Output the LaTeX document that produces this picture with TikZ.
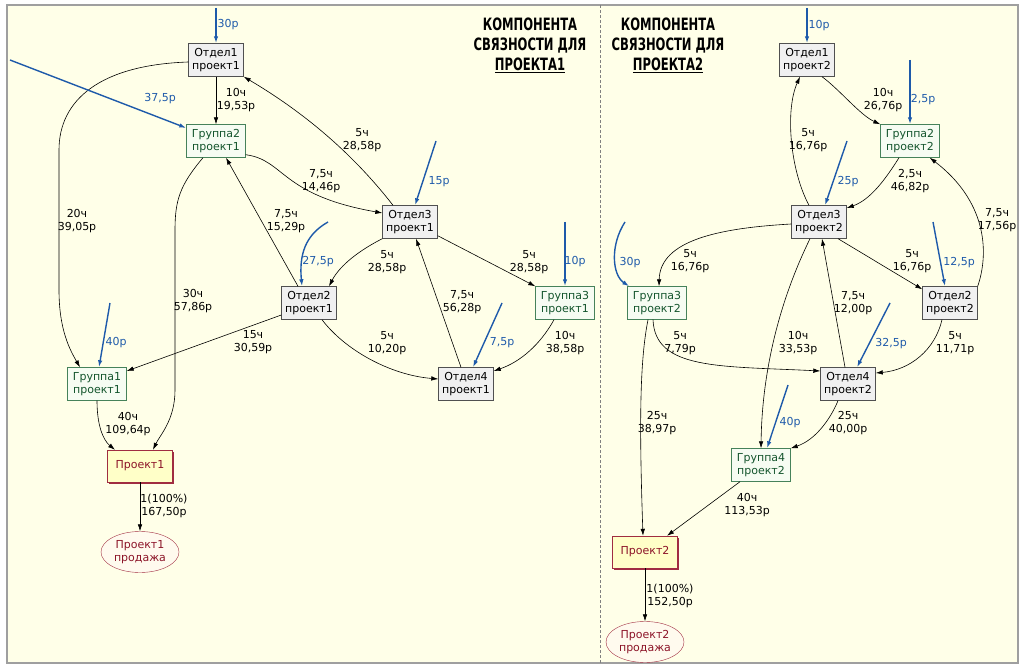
\documentclass[tikz,border=0pt]{standalone}
\usepackage{fontspec}
\setmainfont{DejaVu Sans}
\newfontfamily\ttlfont{DejaVu Sans}[FakeStretch=0.68]
\usetikzlibrary{arrows.meta,shapes.geometric,shadows}
\definecolor{paper}{RGB}{255,255,232}
\definecolor{inblue}{RGB}{30,90,170}
\definecolor{deptdraw}{RGB}{80,80,80}
\definecolor{deptfill}{RGB}{240,240,240}
\definecolor{grpdraw}{RGB}{70,130,90}
\definecolor{grpfill}{RGB}{246,252,242}
\definecolor{grptext}{RGB}{20,85,45}
\definecolor{projdraw}{RGB}{160,45,65}
\definecolor{projfill}{RGB}{255,255,200}
\definecolor{projtext}{RGB}{140,20,40}
\definecolor{salefill}{RGB}{255,250,238}

\begin{document}
\begin{tikzpicture}[x=1pt, y=-1pt, >={Latex[length=7pt,width=4.5pt]},
    dept/.style={draw=deptdraw, fill=deptfill, minimum width=55pt, minimum height=33pt, inner sep=1pt, align=center, font=\fontsize{11}{13}\selectfont},
    grp/.style={dept, draw=grpdraw, fill=grpfill, text=grptext, minimum width=59pt},
    proj/.style={dept, draw=projdraw, fill=projfill, text=projtext, minimum width=65pt, minimum height=32pt, drop shadow={shadow xshift=1.5pt, shadow yshift=-1.5pt, fill=projdraw, opacity=1}},
    sale/.style={ellipse, draw=projdraw, fill=salefill, text=projtext, minimum width=78pt, minimum height=41pt, inner sep=0pt, align=center, font=\fontsize{11}{13}\selectfont},
    lbl/.style={align=center, inner sep=0pt, font=\fontsize{11}{13}\selectfont},
    inlbl/.style={lbl, text=inblue},
    ttl/.style={align=center, inner sep=0pt, font=\ttlfont\bfseries\fontsize{17}{20}\selectfont},
    flow/.style={->, line width=0.6pt},
    inflow/.style={->, draw=inblue, line width=1.4pt}]
    \fill[white] (0,0) rectangle (1024,668);
    \useasboundingbox (0,0) rectangle (1024,668);
    \draw[draw=gray!75, fill=paper, line width=2pt] (7,5) rectangle (1018,663);
    \draw[gray, dash pattern=on 3pt off 2pt] (600,5) -- (600,663);

    \node[ttl] (t1) at (530,45) {КОМПОНЕНТА\\СВЯЗНОСТИ ДЛЯ\\\underline{ПРОЕКТА1}};
    \node[ttl] (t2) at (668,45) {КОМПОНЕНТА\\СВЯЗНОСТИ ДЛЯ\\\underline{ПРОЕКТА2}};

    \node[dept] (o1p1) at (216,60) {Отдел1\\проект1};
    \node[grp] (g2p1) at (216,141) {Группа2\\проект1};
    \node[dept] (o3p1) at (410,222) {Отдел3\\проект1};
    \node[dept] (o2p1) at (309,303) {Отдел2\\проект1};
    \node[grp] (g3p1) at (565,303) {Группа3\\проект1};
    \node[dept] (o4p1) at (466,384) {Отдел4\\проект1};
    \node[grp] (g1p1) at (97,384) {Группа1\\проект1};
    \node[proj] (p1) at (140,466) {Проект1};
    \node[sale] (s1) at (140,552) {Проект1\\продажа};

    \draw[flow] (o1p1) -- (g2p1);
    \draw[flow] ([yshift=-2pt]o1p1.west) .. controls (100,65) and (59,100) .. (59,150) -- (59,290) .. controls (59,330) and (70,350) .. ([xshift=-17pt]g1p1.north);
    \draw[flow] ([xshift=-13pt]g2p1.south) .. controls (180,185) and (175,200) .. (175,230) -- (175,390) .. controls (175,420) and (160,435) .. ([xshift=13pt]p1.north);
    \draw[flow] ([yshift=3pt]g2p1.south east) .. controls (285,160) and (280,195) .. ([yshift=9pt]o3p1.west);
    \draw[flow] ([xshift=-17pt]o3p1.north) .. controls (350,150) and (300,110) .. (o1p1.south east);
    \draw[flow] ([xshift=-11pt]o2p1.north) -- ([xshift=10pt]g2p1.south);
    \draw[flow] (o3p1.south west) .. controls (360,250) and (340,265) .. ([xshift=20pt]o2p1.north);
    \draw[flow] ([yshift=3pt]o3p1.south east) -- (g3p1.north west);
    \draw[flow] ([xshift=-5pt]o4p1.north) -- ([xshift=6pt]o3p1.south);
    \draw[flow] ([xshift=13pt]o2p1.south) .. controls (345,350) and (390,375) .. ([yshift=5pt]o4p1.west);
    \draw[flow] ([xshift=-11pt]g3p1.south) .. controls (540,345) and (520,362) .. ([yshift=13pt]o4p1.east);
    \draw[flow] ([yshift=-12pt]o2p1.west) -- ([yshift=13pt]g1p1.east);
    \draw[flow] (g1p1.south) .. controls (97,425) and (103,440) .. ([xshift=-25pt]p1.north);
    \draw[flow] (p1) -- (s1);

    \coordinate (i1) at (216,8);
    \coordinate (i2) at (10,60);
    \coordinate (i3) at (328,222);
    \coordinate (i4) at (436,141);
    \coordinate (i5) at (565,222);
    \coordinate (i6) at (502,303);
    \coordinate (i7) at (110,303);
    \draw[inflow] (i1) -- (o1p1);
    \draw[inflow] (i2) -- ([yshift=13pt]g2p1.west);
    \draw[inflow] (i3) .. controls (305,235) and (299,255) .. ([xshift=-7pt]o2p1.north);
    \draw[inflow] (i4) -- ([xshift=5pt]o3p1.north);
    \draw[inflow] (i5) -- (g3p1.north);
    \draw[inflow] (i6) -- ([xshift=7pt]o4p1.north);
    \draw[inflow] (i7) -- ([xshift=2pt]g1p1.north);

    \node[inlbl] (a1) at (228,25) {30р};
    \node[inlbl] (a2) at (160,99) {37,5р};
    \node[lbl] (a3) at (236,100) {10ч\\19,53р};
    \node[lbl] (a4) at (77,221) {20ч\\39,05р};
    \node[lbl] (a5) at (193,301) {30ч\\57,86р};
    \node[lbl] (a6) at (321,181) {7,5ч\\14,46р};
    \node[lbl] (a7) at (362,140) {5ч\\28,58р};
    \node[lbl] (a8) at (286,221) {7,5ч\\15,29р};
    \node[inlbl] (a9) at (318,262) {27,5р};
    \node[lbl] (a10) at (387,262) {5ч\\28,58р};
    \node[inlbl] (a11) at (439,182) {15р};
    \node[lbl] (a12) at (529,262) {5ч\\28,58р};
    \node[inlbl] (a13) at (575,262) {10р};
    \node[lbl] (a14) at (462,302) {7,5ч\\56,28р};
    \node[inlbl] (a15) at (502,343) {7,5р};
    \node[lbl] (a16) at (387,343) {5ч\\10,20р};
    \node[lbl] (a17) at (565,343) {10ч\\38,58р};
    \node[lbl] (a18) at (253,342) {15ч\\30,59р};
    \node[inlbl] (a19) at (116,343) {40р};
    \node[lbl] (a20) at (128,424) {40ч\\109,64р};
    \node[lbl] (a21) at (164,506) {1(100\%)\\167,50р};

    \node[dept] (o1p2) at (807,60) {Отдел1\\проект2};
    \node[grp] (g2p2) at (910,141) {Группа2\\проект2};
    \node[dept] (o3p2) at (819,222) {Отдел3\\проект2};
    \node[grp] (g3p2) at (657,303) {Группа3\\проект2};
    \node[dept] (o2p2) at (950,303) {Отдел2\\проект2};
    \node[dept] (o4p2) at (848,384) {Отдел4\\проект2};
    \node[grp] (g4p2) at (761,465) {Группа4\\проект2};
    \node[proj] (p2) at (645,552) {Проект2};
    \node[sale] (s2) at (645,642) {Проект2\\продажа};

    \draw[flow] ([xshift=15pt]o1p2.south) .. controls (840,90) and (860,115) .. (g2p2.north west);
    \draw[flow] ([xshift=-10pt]o3p2.north) .. controls (790,170) and (785,110) .. ([xshift=-7pt]o1p2.south);
    \draw[flow] ([xshift=-11pt]g2p2.south) .. controls (885,180) and (870,200) .. ([yshift=14pt]o3p2.east);
    \draw[flow] (o2p2.north east) .. controls (990,250) and (985,200) .. ([xshift=-10pt]g2p2.south east);
    \draw[flow] ([yshift=-2pt]o3p2.west) .. controls (720,228) and (660,240) .. ([xshift=2pt]g3p2.north);
    \draw[flow] ([xshift=19pt]o3p2.south) -- ([yshift=-3pt]o2p2.north west);
    \draw[flow] ([xshift=-3pt]o4p2.north) -- ([xshift=3pt]o3p2.south);
    \draw[flow] ([xshift=-9pt]o3p2.south) .. controls (780,300) and (762,370) .. (g4p2.north);
    \draw[flow] ([xshift=-8pt]o2p2.south) .. controls (935,350) and (910,370) .. ([yshift=11pt]o4p2.east);
    \draw[flow] ([xshift=-4pt]g3p2.south) .. controls (655,370) and (720,366) .. ([yshift=13pt]o4p2.west);
    \draw[flow] ([xshift=-9pt]g3p2.south) .. controls (640,360) and (639,420) .. ([xshift=-2pt]p2.north);
    \draw[flow] ([xshift=-10pt]o4p2.south) .. controls (830,420) and (815,440) .. (g4p2.north east);
    \draw[flow] ([xshift=-21pt]g4p2.south) -- ([xshift=22pt]p2.north);
    \draw[flow] (p2) -- (s2);

    \coordinate (j1) at (807,8);
    \coordinate (j2) at (910,60);
    \coordinate (j3) at (847,141);
    \coordinate (j4) at (625,222);
    \coordinate (j5) at (933,222);
    \coordinate (j6) at (890,303);
    \coordinate (j7) at (788,385);
    \draw[inflow] (j1) -- (o1p2);
    \draw[inflow] (j2) -- (g2p2);
    \draw[inflow] (j3) -- ([xshift=6pt]o3p2.north);
    \draw[inflow] (j4) .. controls (610,245) and (612,275) .. ([xshift=2pt]g3p2.north west);
    \draw[inflow] (j5) -- ([xshift=-5pt]o2p2.north);
    \draw[inflow] (j6) -- ([xshift=9pt]o4p2.north);
    \draw[inflow] (j7) -- ([xshift=6pt]g4p2.north);

    \node[inlbl] (b1) at (819,26) {10р};
    \node[lbl] (b2) at (883,100) {10ч\\26,76р};
    \node[inlbl] (b3) at (923,100) {2,5р};
    \node[lbl] (b4) at (808,140) {5ч\\16,76р};
    \node[inlbl] (b5) at (848,182) {25р};
    \node[lbl] (b6) at (910,181) {2,5ч\\46,82р};
    \node[lbl] (b7) at (997,220) {7,5ч\\17,56р};
    \node[lbl] (b8) at (690,261) {5ч\\16,76р};
    \node[inlbl] (b9) at (630,263) {30р};
    \node[lbl] (b10) at (912,261) {5ч\\16,76р};
    \node[inlbl] (b11) at (959,263) {12,5р};
    \node[lbl] (b12) at (853,303) {7,5ч\\12,00р};
    \node[lbl] (b13) at (798,343) {10ч\\33,53р};
    \node[inlbl] (b14) at (891,344) {32,5р};
    \node[lbl] (b15) at (955,343) {5ч\\11,71р};
    \node[lbl] (b16) at (680,343) {5ч\\7,79р};
    \node[lbl] (b17) at (657,423) {25ч\\38,97р};
    \node[inlbl] (b18) at (790,423) {40р};
    \node[lbl] (b19) at (848,423) {25ч\\40,00р};
    \node[lbl] (b20) at (747,505) {40ч\\113,53р};
    \node[lbl] (b21) at (670,596) {1(100\%)\\152,50р};
\end{tikzpicture}
\end{document}
